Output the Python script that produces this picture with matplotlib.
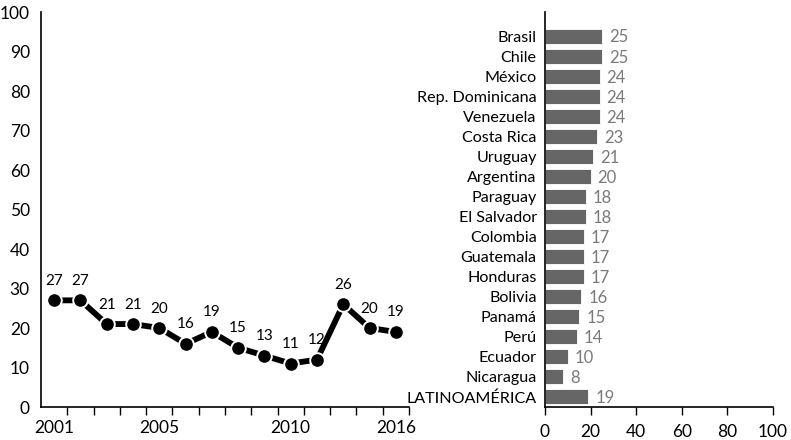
import matplotlib
matplotlib.use("Agg")
import matplotlib.pyplot as plt
import numpy as np

plt.rcParams['font.family'] = ['Lato', 'DejaVu Sans']

# Serie temporal
years = ["2001", "2002", "2003", "2004", "2005", "2006", "2007",
         "2008", "2009", "2010", "2011", "2013", "2015", "2016"]
trend = [27, 27, 21, 21, 20, 16, 19, 15, 13, 11, 12, 26, 20, 19]
shown_years = ["2001", "2005", "2010", "2016"]

# Países
countries = ["Brasil", "Chile", "México", "Rep. Dominicana", "Venezuela",
             "Costa Rica", "Uruguay", "Argentina", "Paraguay", "El Salvador",
             "Colombia", "Guatemala", "Honduras", "Bolivia", "Panamá", "Perú",
             "Ecuador", "Nicaragua", "LATINOAMÉRICA"]
country_vals = [25, 25, 24, 24, 24, 23, 21, 20, 18, 18, 17, 17, 17, 16,
                15, 14, 10, 8, 19]

fig = plt.figure(figsize=(7.91, 4.40), dpi=100)

# ---- Línea temporal ----
ax1 = fig.add_axes([41/791, 33/440, 368/791, 395/440])
x = np.arange(len(years))
ax1.plot(x, trend, color='black', lw=4.2, solid_capstyle='butt',
         marker='o', ms=10.5, mfc='black', mec='white', mew=1.4, zorder=3)
for xi, v in zip(x, trend):
    ax1.annotate(str(v), (xi, v), xytext=(0, 9), textcoords='offset points',
                 ha='center', va='bottom', fontsize=11, color='black')
ax1.set_xlim(-0.5, len(years) - 0.5)
ax1.set_ylim(0, 100)
ax1.set_yticks(np.arange(0, 101, 10))
ax1.tick_params(axis='y', length=0, labelsize=12.5, pad=8)
ax1.set_xticks(x + 0.5, minor=False)
ax1.set_xticklabels([])
ax1.tick_params(axis='x', length=6, width=1, direction='out')
lbl_pos = [years.index(y) for y in shown_years]
ax1.set_xticks(lbl_pos, minor=True)
ax1.set_xticklabels(shown_years, minor=True)
ax1.tick_params(axis='x', which='minor', length=0, labelsize=12.5, pad=9)
for s in ['top', 'right']:
    ax1.spines[s].set_visible(False)
for s in ['left', 'bottom']:
    ax1.spines[s].set_linewidth(1.2)

# ---- Barras por país ----
ax2 = fig.add_axes([545/791, 33/440, 228/791, 395/440])
ypos = np.arange(len(countries))[::-1]
ax2.barh(ypos, country_vals, height=0.75, color='#666666',
         edgecolor='white', linewidth=0.6)
for yi, v in zip(ypos, country_vals):
    ax2.annotate(str(v), (v, yi), xytext=(5, -1), textcoords='offset points',
                 ha='left', va='center', fontsize=12, color='#7a7a7a')
ax2.set_xlim(0, 100)
ax2.set_ylim(-0.5, 19.2)
ax2.set_xticks(np.arange(0, 101, 20))
ax2.tick_params(axis='x', length=6, width=1, labelsize=12.5, pad=6)
ax2.set_yticks(ypos)
ax2.set_yticklabels(countries)
ax2.tick_params(axis='y', length=0, labelsize=11.6, pad=6)
for s in ['top', 'right']:
    ax2.spines[s].set_visible(False)
for s in ['left', 'bottom']:
    ax2.spines[s].set_linewidth(1.2)

fig.savefig("out.png", dpi=100)
